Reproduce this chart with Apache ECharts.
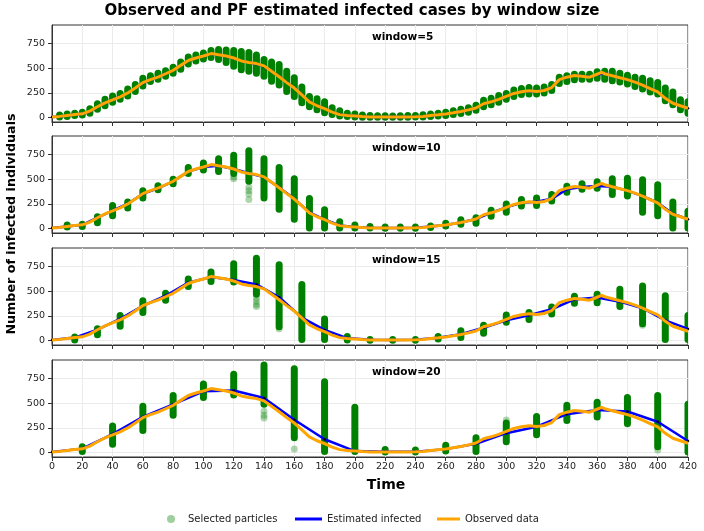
<!DOCTYPE html>
<html><head><meta charset="utf-8">
<script src="https://cdn.jsdelivr.net/npm/echarts@6/dist/echarts.min.js"></script>
<style>html,body{margin:0;padding:0;background:#fff}#c{width:704px;height:531px}</style>
</head><body><div id="c"></div>
<script>
// ---------- DATA ----------
const windows = [5, 10, 15, 20];
const yTicks = [0, 250, 500, 750];

const obsTime = [0,5,10,15,20,25,30,35,40,45,50,55,60,65,70,75,80,85,90,95,100,105,110,115,120,125,130,135,140,145,150,155,160,165,170,175,180,185,190,195,200,205,210,215,220,225,230,235,240,245,250,255,260,265,270,275,280,285,290,295,300,305,310,315,320,325,330,335,340,345,350,355,360,363,365,370,375,380,385,390,395,400,405,410,415,420];
const obsValue = [5,12,22,30,38,65,110,150,180,210,250,300,355,385,410,445,480,530,580,605,625,650,638,625,605,575,560,548,525,470,415,355,300,230,160,120,90,55,30,20,15,10,7,6,6,5,6,7,8,12,20,28,37,48,62,78,97,140,160,185,215,245,262,272,265,275,305,385,410,428,420,410,440,458,445,425,405,385,360,330,295,260,195,145,120,95];

// estimated infected at window points (t = 0, w, 2w, ...)
const est5 = [5,12,22,30,38,62,108,150,182,212, 252,300,352,385,410,445,480,528,578,605, 625,648,638,622,603,575,560,545,520,470, 415,355,300,230,162,120,90,55,32,20, 15,10,7,6,6,5,6,7,8,12, 20,28,37,48,62,78,97,138,160,185, 213,245,262,270,268,278,305,385,410,428, 422,412,436,448,425,405,385,360,330,295, 260,195,145,120,95];
const est10 = [5,22,38,110,182,252,352,408,480,578, 625,638,605,562,522,418,302,165,92,32, 15,8,6,6,8,20,37,62,97,162, 215,262,272,302,400,423,432,425,385,330, 262,150,95];
const est15 = [5,30,110,220,352,455,588,645,615,570,440,232,108,25,8,6,8,28,65,130,205,258,318,418,437,395,328,205,118];
const est20 = [5,40,188,362,490,622,630,555,333,135,15,8,8,35,90,197,263,390,433,417,313,117];

// selected particles: range (low / high) at t = w, 2w, ... 420
const part5Lo = [5,12,20,25,45,85,120,155,185,220, 265,320,365,390,420,450,490,545,575,595, 610,590,560,520,485,470,450,420,370,330, 265,215,150,110,80,50,30,15,10,5, 4,3,3,3,3,3,4,5,6,10, 15,22,30,42,55,75,110,130,155,185, 215,235,240,240,250,275,345,365,385,390, 390,400,390,375,360,340,315,290,260,240, 170,130,80,45];
const part5Hi = [25,35,45,55,90,140,185,220,245,290, 335,400,425,450,475,510,565,615,635,655, 680,690,685,680,670,660,635,590,565,540, 470,405,310,215,190,160,100,70,45,35, 25,20,18,18,15,18,20,22,28,35, 45,55,70,85,100,125,175,195,225,245, 280,295,305,300,310,335,410,425,440,440, 440,465,470,470,450,430,410,400,375,355, 300,260,180,160];
const part10Lo = [15,20,60,130,210,310,395,455,560,595, 580,560,480,310,195,95,5,5,5,5, 5,3,3,3,10,25,45,55,125,165, 230,235,280,370,400,410,345,330,165,130, 5,5];
const part10Hi = [35,45,120,235,270,385,435,500,620,665, 710,745,790,710,620,505,305,190,70,35, 20,15,15,15,25,55,90,110,185,250, 295,310,345,430,455,475,505,510,495,445, 270,175];
const part15Lo = [5,60,145,285,410,550,600,595,470,140, 10,10,5,3,3,3,15,30,75,185, 215,270,380,385,345,170,10,10];
const part15Hi = [35,120,255,405,480,625,695,780,835,770, 570,220,40,12,10,12,40,100,155,260, 285,340,450,470,520,555,455,255];
const part20Lo = [10,85,225,380,560,585,490,150,10,10, 5,5,15,10,110,180,325,360,295,60, 5];
const part20Hi = [60,270,470,580,695,795,890,850,720,460, 30,25,75,150,300,365,480,510,560,580, 490];
// isolated (faint) particles: [time, value]
const stray5 = [];
const stray10 = [[120,505],[120,525],[130,420],[130,385],[130,350],[130,295]];
const stray15 = [[135,345],[135,365],[135,400],[135,430],[150,120],[390,155]];
const stray20 = [[140,420],[140,380],[140,350],[160,35],[300,330],[380,290],[400,25]];

// ---------- CHART ----------
const estAll = [est5, est10, est15, est20];
const loAll = [part5Lo, part10Lo, part15Lo, part20Lo];
const hiAll = [part5Hi, part10Hi, part15Hi, part20Hi];
const strayAll = [stray5, stray10, stray15, stray20];
const tops = [25, 136, 248, 360];
const FONT = 'DejaVu Sans';
const GREEN = '#008000', LIGHTGREEN = '#9fcf9f', BLUE = '#0000ff', ORANGE = '#ffa500';

const grids = [], xAxes = [], yAxes = [], series = [], graphics = [];
const obsData = obsTime.map((t, i) => [t, obsValue[i]]);

windows.forEach((w, k) => {
  grids.push({left: 52, width: 636, top: tops[k], height: 97, show: true, borderColor: '#333', borderWidth: 1, backgroundColor: '#fff'});
  xAxes.push({
    gridIndex: k, type: 'value', min: 0, max: 420, interval: 20,
    axisLine: {show: true, onZero: false, lineStyle: {color: '#333', width: 1}},
    axisTick: {show: true, length: 4, lineStyle: {color: '#333'}},
    axisLabel: {show: k === 3, fontSize: 9.5, color: '#222', fontFamily: FONT, margin: 5},
    splitLine: {show: true, lineStyle: {color: '#ebebeb', width: 1}}
  });
  yAxes.push({
    gridIndex: k, type: 'value', min: -45, max: 940,
    axisLine: {show: true, onZero: false, lineStyle: {color: '#333', width: 1}},
    axisTick: {show: true, length: 4, customValues: yTicks, lineStyle: {color: '#333'}},
    axisLabel: {customValues: yTicks, fontSize: 9.5, color: '#222', fontFamily: FONT, margin: 7},
    splitLine: {show: true, lineStyle: {color: '#ebebeb', width: 1}}
  });
  const partData = loAll[k].map((lo, i) => [(i + 1) * w, lo, hiAll[k][i]]);
  series.push({
    name: 'Selected particles', type: 'custom', xAxisIndex: k, yAxisIndex: k, clip: true,
    itemStyle: {color: LIGHTGREEN},
    encode: {x: 0, y: [1, 2]},
    data: partData,
    renderItem: function (params, api) {
      const a = api.coord([api.value(0), api.value(1)]);
      const b = api.coord([api.value(0), api.value(2)]);
      return {type: 'line', shape: {x1: a[0], y1: a[1], x2: b[0], y2: b[1] - 0.01},
        style: {stroke: GREEN, lineWidth: 7, lineCap: 'round', fill: null}};
    },
    z: 2
  });
  series.push({
    name: 'Selected particles', type: 'scatter', xAxisIndex: k, yAxisIndex: k,
    data: strayAll[k], symbolSize: 7, itemStyle: {color: 'rgba(0,128,0,0.4)'}, z: 2
  });
  const estData = estAll[k].map((v, i) => [i * w, v]);
  series.push({
    name: 'Estimated infected', type: 'line', xAxisIndex: k, yAxisIndex: k,
    data: estData, showSymbol: true, symbol: 'circle', symbolSize: 2.5,
    itemStyle: {color: '#000'}, lineStyle: {color: BLUE, width: 2.5}, z: 3, animation: false
  });
  series.push({
    name: 'Observed data', type: 'line', xAxisIndex: k, yAxisIndex: k,
    data: obsData, showSymbol: false, itemStyle: {color: ORANGE}, lineStyle: {color: ORANGE, width: 3}, z: 4
  });
  graphics.push({type: 'text', left: 372, top: tops[k] + 7, z: 10,
    style: {text: 'window=' + w, font: 'bold 10.5px "DejaVu Sans"', fill: '#000'}});
});

graphics.push({type: 'text', left: 'center', top: 4, z: 10,
  style: {text: 'Observed and PF estimated infected cases by window size', font: 'bold 15px "DejaVu Sans"', fill: '#000'}});
graphics.push({type: 'text', x: 5, y: 224, rotation: Math.PI / 2, z: 10,
  style: {text: 'Number of infected individuals', font: 'bold 12.7px "DejaVu Sans"', fill: '#000', align: 'center', verticalAlign: 'top'}});
graphics.push({type: 'text', x: 386, y: 485, z: 10,
  style: {text: 'Time', font: 'bold 14px "DejaVu Sans"', fill: '#000', align: 'center', verticalAlign: 'middle'}});

const legendText = {fontSize: 10, color: '#222', fontFamily: FONT};
const option = {
  animation: false,
  backgroundColor: '#fff',
  grid: grids, xAxis: xAxes, yAxis: yAxes, series: series, graphic: graphics,
  legend: [
    {left: 162, top: 509, itemWidth: 24, itemHeight: 8, textStyle: legendText, selectedMode: false,
      data: [{name: 'Selected particles', icon: 'circle', itemStyle: {color: LIGHTGREEN, borderWidth: 0}}]},
    {left: 290, top: 509, itemWidth: 27, itemHeight: 3, textStyle: legendText, selectedMode: false,
      data: [{name: 'Estimated infected', icon: 'rect', itemStyle: {color: BLUE, borderWidth: 0}}]},
    {left: 432, top: 509, itemWidth: 23, itemHeight: 3, textStyle: legendText, selectedMode: false,
      data: [{name: 'Observed data', icon: 'rect', itemStyle: {color: ORANGE, borderWidth: 0}}]}
  ]
};
const chart = echarts.init(document.getElementById('c'), null, {renderer: 'canvas'});
chart.setOption(option);
</script>
</body></html>
